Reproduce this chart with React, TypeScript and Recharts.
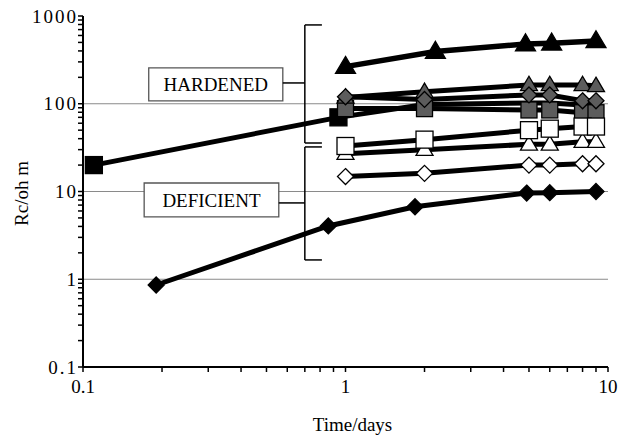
import React from "react";
import {
  LineChart,
  Line,
  XAxis,
  YAxis,
  CartesianGrid,
  ReferenceArea,
  ReferenceLine,
  Label,
} from "recharts";

// sampling days shared by most series (x)
const clusterDays = [1, 2, 5, 6, 8, 9];

const blackTriangleDays = [1, 2.2, 4.85, 6.1, 9];
const blackTriangleRc = [265, 393, 480, 490, 520];

const grayTriangleRc = [118, 137, 164, 164, 164, 160];
const grayDiamondRc = [120, 112, 126, 126, 108, 108];
const graySquareRc = [88, 88, 85, 85, 79, 79];
const openSquareRc = [33, 39, 50, 52, 55, 55];
const openTriangleRc = [27, 30, 34.5, 34.5, 37, 37];
const openDiamondRc = [14.8, 16.1, 20, 20, 20.7, 20.7];

// black squares: only the first two points show a marker, the rest run inside the grey band
const blackSquareDays = [0.11, 0.94, 2, 5, 6, 8, 9];
const blackSquareRc = [20, 70, 98, 102, 102, 97, 97];
const blackSquareMarked = 2;

const blackDiamondDays = [0.19, 0.86, 1.84, 4.9, 6, 9];
const blackDiamondRc = [0.86, 4.05, 6.7, 9.6, 9.7, 10];

const xTicks = [0.1, 0.2, 0.3, 0.4, 0.5, 0.6, 0.7, 0.8, 0.9, 1, 2, 3, 4, 5, 6, 7, 8, 9, 10];
const yTicks = [
  0.1, 0.2, 0.3, 0.4, 0.5, 0.6, 0.7, 0.8, 0.9,
  1, 2, 3, 4, 5, 6, 7, 8, 9,
  10, 20, 30, 40, 50, 60, 70, 80, 90,
  100, 200, 300, 400, 500, 600, 700, 800, 900, 1000,
];
const xLabelTicks = [0.1, 1, 10];
const yLabelTicks = [0.1, 1, 10, 100, 1000];
const gridValues = [1, 10, 100];

const zip = (days: number[], rc: number[]) => days.map((t, i) => ({ t, rc: rc[i] }));

const FONT = "'Liberation Serif', 'Times New Roman', serif";
const GRAY = "#5c5c5c";

type Shape = "square" | "diamond" | "triangle";

const marker = (shape: Shape, fill: string, size: number, upTo = Infinity) =>
  (props: any) => {
    const { cx, cy, index } = props;
    if (cx == null || cy == null || index >= upTo) return <g key={index} />;
    const h = size / 2;
    const sw = 1.3;
    if (shape === "square")
      return <rect key={index} x={cx - h} y={cy - h} width={size} height={size} fill={fill} stroke="#000" strokeWidth={sw} />;
    if (shape === "diamond")
      return (
        <polygon key={index} points={`${cx},${cy - h} ${cx + h},${cy} ${cx},${cy + h} ${cx - h},${cy}`}
          fill={fill} stroke="#000" strokeWidth={sw} />
      );
    const th = size * 0.85;
    return (
      <polygon key={index} points={`${cx},${cy - th * 0.6} ${cx + h},${cy + th * 0.4} ${cx - h},${cy + th * 0.4}`}
        fill={fill} stroke="#000" strokeWidth={sw} />
    );
  };

const XTick = (props: any) => {
  const { x, y, payload } = props;
  if (!xLabelTicks.includes(payload.value)) return <g />;
  return (
    <text x={x} y={y + 19} textAnchor="middle" fontFamily={FONT} fontSize={19} style={{ fill: "#000" }}>
      {payload.value}
    </text>
  );
};

const YTick = (props: any) => {
  const { x, y, payload } = props;
  if (!yLabelTicks.includes(payload.value)) return <g />;
  return (
    <text x={x + 2} y={y} dy="0.35em" textAnchor="end" fontFamily={FONT} fontSize={19} letterSpacing={2}
      style={{ fill: "#000" }}>
      {payload.value}
    </text>
  );
};

const series = [
  { name: "blackDiamond", data: zip(blackDiamondDays, blackDiamondRc), dot: marker("diamond", "#000", 16), w: 5 },
  { name: "openDiamond", data: zip(clusterDays, openDiamondRc), dot: marker("diamond", "#fff", 16), w: 5 },
  { name: "openTriangle", data: zip(clusterDays, openTriangleRc), dot: marker("triangle", "#fff", 17), w: 5 },
  { name: "blackSquare", data: zip(blackSquareDays, blackSquareRc), dot: marker("square", "#000", 17, blackSquareMarked), w: 5 },
  { name: "graySquare", data: zip(clusterDays, graySquareRc), dot: marker("square", GRAY, 16), w: 5 },
  { name: "openSquare", data: zip(clusterDays, openSquareRc), dot: marker("square", "#fff", 17), w: 5 },
  { name: "grayTriangle", data: zip(clusterDays, grayTriangleRc), dot: marker("triangle", GRAY, 17), w: 5 },
  { name: "grayDiamond", data: zip(clusterDays, grayDiamondRc), dot: marker("diamond", GRAY, 16), w: 5 },
  { name: "blackTriangle", data: zip(blackTriangleDays, blackTriangleRc), dot: marker("triangle", "#000", 20), w: 5.5 },
];

const braceStroke = { stroke: "#000", strokeWidth: 1.5, ifOverflow: "visible" as const };

const boxLabel = (text: string) => (
  <Label value={text} position="center" fontFamily={FONT} fontSize={19} style={{ fill: "#000" }} />
);

export default function App() {
  return (
    <div style={{ position: "absolute", left: 0, top: 0, width: 621, height: 436, background: "#fff" }}>
      <LineChart width={621} height={436} margin={{ top: 16, right: 13, left: 0, bottom: 0 }}>
        <CartesianGrid vertical={false} horizontalValues={gridValues} stroke="#8a8a8a" strokeWidth={1.2} />
        <XAxis
          type="number"
          dataKey="t"
          scale="log"
          domain={[0.1, 10]}
          ticks={xTicks}
          allowDataOverflow
          height={69}
          tick={<XTick />}
          tickSize={5}
          tickLine={{ stroke: "#000", strokeWidth: 1.5 }}
          axisLine={{ stroke: "#000", strokeWidth: 2 }}
          interval={0}
        >
          <Label
            content={(p: any) => (
              <text x={p.viewBox.x + p.viewBox.width / 2 + 7} y={p.viewBox.y + 64} textAnchor="middle"
                fontFamily={FONT} fontSize={19} style={{ fill: "#000" }}>
                Time/days
              </text>
            )}
          />
        </XAxis>
        <XAxis xAxisId="top" orientation="top" type="number" scale="log" domain={[0.1, 10]} allowDataOverflow
          height={0} tick={false} tickLine={false} axisLine={{ stroke: "#000", strokeWidth: 2 }} />
        <YAxis
          type="number"
          scale="log"
          domain={[0.1, 1000]}
          ticks={yTicks}
          allowDataOverflow
          width={83}
          tick={<YTick />}
          tickSize={5}
          tickLine={{ stroke: "#000", strokeWidth: 1.5 }}
          axisLine={{ stroke: "#000", strokeWidth: 2 }}
          interval={0}
        >
          <Label
            content={(p: any) => {
              const cx = 21;
              const cy = p.viewBox.y + p.viewBox.height / 2 + 2;
              return (
                <text x={cx} y={cy} textAnchor="middle" dominantBaseline="central" transform={`rotate(-90 ${cx} ${cy})`}
                  fontFamily={FONT} fontSize={19} style={{ fill: "#000" }}>
                  Rc/oh m
                </text>
              );
            }}
          />
        </YAxis>
        <YAxis yAxisId="right" orientation="right" type="number" scale="log" domain={[0.1, 1000]} allowDataOverflow
          width={0} tick={false} tickLine={false} axisLine={{ stroke: "#000", strokeWidth: 2 }} />

        {/* HARDENED brace */}
        <ReferenceLine segment={[{ x: 0.70, y: 791 }, { x: 0.813, y: 791 }]} {...braceStroke} />
        <ReferenceLine segment={[{ x: 0.70, y: 791 }, { x: 0.70, y: 35.7 }]} {...braceStroke} />
        <ReferenceLine segment={[{ x: 0.70, y: 35.7 }, { x: 0.813, y: 35.7 }]} {...braceStroke} />
        <ReferenceLine segment={[{ x: 0.577, y: 172.6 }, { x: 0.70, y: 172.6 }]} {...braceStroke} />
        {/* DEFICIENT brace */}
        <ReferenceLine segment={[{ x: 0.70, y: 32.2 }, { x: 0.813, y: 32.2 }]} {...braceStroke} />
        <ReferenceLine segment={[{ x: 0.70, y: 32.2 }, { x: 0.70, y: 1.66 }]} {...braceStroke} />
        <ReferenceLine segment={[{ x: 0.70, y: 1.66 }, { x: 0.813, y: 1.66 }]} {...braceStroke} />
        <ReferenceLine segment={[{ x: 0.557, y: 7.41 }, { x: 0.70, y: 7.41 }]} {...braceStroke} />

        <ReferenceArea x1={0.178} x2={0.577} y1={107.6} y2={256} fill="#fff" fillOpacity={1} stroke="#555"
          strokeWidth={1.3} ifOverflow="visible" label={boxLabel("HARDENED")} />
        <ReferenceArea x1={0.171} x2={0.557} y1={5.13} y2={12.5} fill="#fff" fillOpacity={1} stroke="#555"
          strokeWidth={1.3} ifOverflow="visible" label={boxLabel("DEFICIENT")} />

        {series.map((s) => (
          <Line
            key={s.name}
            data={s.data}
            dataKey="rc"
            stroke="#000"
            strokeWidth={s.w}
            dot={s.dot}
            activeDot={false}
            isAnimationActive={false}
          />
        ))}
      </LineChart>
    </div>
  );
}
